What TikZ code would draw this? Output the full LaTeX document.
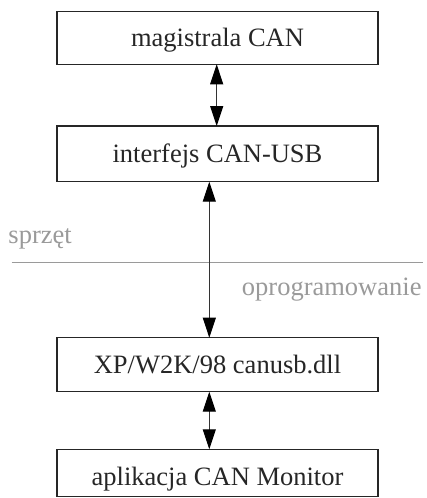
\documentclass[tikz,border=0pt]{standalone}
\usepackage{fontspec}
\setmainfont{Liberation Serif}
\usetikzlibrary{arrows.meta}
\definecolor{lblgray}{HTML}{9A9A9A}
\definecolor{arrgray}{HTML}{333333}
\begin{document}
\begin{tikzpicture}[x=1pt,y=-1pt,
  boxstyle/.style={draw=black!85,line width=1.3pt,minimum width=321pt,inner sep=0pt,outer sep=0pt},
  txt/.style={anchor=base,inner sep=0pt,font=\fontsize{26.5}{30}\selectfont,text=black!85},
  graytxt/.style={inner sep=0pt,font=\fontsize{26.5}{30}\selectfont,text=lblgray},
  dblarrow/.style={line width=1pt,draw=arrgray,{Triangle[length=20pt,width=13pt,fill=black,color=black]}-{Triangle[length=20pt,width=13pt,fill=black,color=black]}}]
\useasboundingbox (0,0) rectangle (427,498);
% boxes
\node[boxstyle,minimum height=52.6pt] (b1) at (217.5,38) {};
\node[boxstyle,minimum height=55.7pt] (b2) at (217.5,153.85) {};
\node[boxstyle,minimum height=54pt] (b3) at (217.5,364.7) {};
\node[boxstyle,minimum height=47.2pt] (b4) at (217.5,472.9) {};
% texts
\node[txt] (t1) at (217.5,46.7) {magistrala CAN};
\node[txt] (t2) at (217.5,162.4) {interfejs CAN-USB};
\node[txt] (t3) at (217.5,373.2) {XP/W2K/98 canusb.dll};
\node[txt] (t4) at (217.5,485.2) {aplikacja CAN Monitor};
% separator
\coordinate (sl) at (11.7,262.3);
\coordinate (sr) at (422.7,262.3);
\draw[lblgray,line width=1.3pt] (sl) -- (sr);
\node[graytxt,anchor=base west] (hw) at (8.3,243.3) {sprzęt};
\node[graytxt,anchor=base east] (sw) at (421.7,295) {oprogramowanie};
% arrows
\draw[dblarrow] ([xshift=-0.8pt]b1.south) -- ([xshift=-0.8pt]b2.north);
\draw[dblarrow] ([xshift=-8.2pt]b2.south) -- ([xshift=-8.2pt]b3.north);
\draw[dblarrow] ([xshift=-8.2pt]b3.south) -- ([xshift=-8.2pt]b4.north);
\end{tikzpicture}
\end{document}
